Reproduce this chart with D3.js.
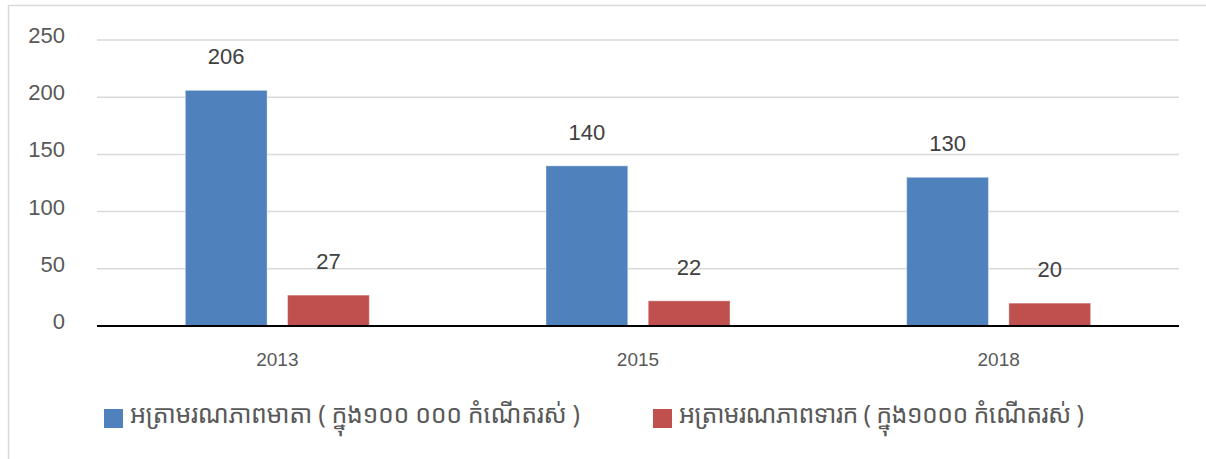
<!DOCTYPE html>
<html>
<head>
<meta charset="utf-8">
<script src="https://cdn.jsdelivr.net/npm/d3@7"></script>
<style>
  body { margin: 0; background: #fff; }
  text { font-family: "Liberation Sans", Arial, sans-serif; }
</style>
</head>
<body>
<div id="wrapper"></div>
<script>
const years = ["2013", "2015", "2018"];
const seriesNames = [
    "អត្រាមរណភាពមាតា ( ក្នុង១០០ ០០០ កំណើតរស់ )",
    "អត្រាមរណភាពទារក ( ក្នុង១០០០ កំណើតរស់ )"
];
const maternal = [206, 140, 130];
const infant = [27, 22, 20];
const yTicks = [0, 50, 100, 150, 200, 250];
const colors = ["#4F81BD", "#C0504D"];

const dimension = {
    width: 1206,
    height: 459,
    margin: { top: 40, left: 97, bottom: 133, right: 27 }
};
dimension.boundedWidth = dimension.width - dimension.margin.left - dimension.margin.right;
dimension.boundedHeight = 326 - dimension.margin.top;

const svg = d3.select("#wrapper").append("svg")
    .attr("width", dimension.width)
    .attr("height", dimension.height);

// chart frame
svg.append("rect")
    .attr("x", 8.5).attr("y", 5.5)
    .attr("width", 1210).attr("height", 470)
    .attr("fill", "none")
    .attr("stroke", "#d9d9d9")
    .attr("stroke-width", 1.5);

const bounded = svg.append("g")
    .attr("transform", `translate(${dimension.margin.left},${dimension.margin.top})`);

const yScaler = d3.scaleLinear()
    .domain([0, 250])
    .range([dimension.boundedHeight, 0]);

const x0 = d3.scaleBand()
    .domain(years)
    .range([0, dimension.boundedWidth]);

const groupWidth = 184;
const x1 = d3.scaleBand()
    .domain([0, 1])
    .range([(x0.bandwidth() - groupWidth) / 2, (x0.bandwidth() + groupWidth) / 2])
    .paddingInner(0.2);

// gridlines
bounded.append("g")
    .selectAll("line")
    .data(yTicks.filter(d => d > 0))
    .join("line")
    .attr("x1", 0).attr("x2", dimension.boundedWidth)
    .attr("y1", d => yScaler(d)).attr("y2", d => yScaler(d))
    .attr("stroke", "#d9d9d9")
    .attr("stroke-width", 1.5);

// y tick labels
bounded.append("g")
    .selectAll("text")
    .data(yTicks)
    .join("text")
    .attr("x", -32)
    .attr("y", d => yScaler(d) + 3)
    .attr("text-anchor", "end")
    .attr("fill", "#595959")
    .attr("font-size", 22)
    .text(d => d);

const rows = years.map((y, i) => ({ year: y, values: [maternal[i], infant[i]] }));

const groups = bounded.selectAll(".grp")
    .data(rows)
    .join("g")
    .attr("class", "grp")
    .attr("transform", d => `translate(${x0(d.year)},0)`);

groups.selectAll("rect")
    .data(d => d.values.map((v, k) => ({ k, v })))
    .join("rect")
    .attr("x", d => x1(d.k))
    .attr("width", x1.bandwidth())
    .attr("y", d => yScaler(d.v))
    .attr("height", d => yScaler(0) - yScaler(d.v))
    .attr("fill", d => colors[d.k])
    .attr("stroke", "#ffffff")
    .attr("stroke-opacity", 0.4)
    .attr("stroke-width", 1);

groups.selectAll(".val")
    .data(d => d.values.map((v, k) => ({ k, v })))
    .join("text")
    .attr("class", "val")
    .attr("x", d => x1(d.k) + x1.bandwidth() / 2)
    .attr("y", d => yScaler(d.v) - 26)
    .attr("text-anchor", "middle")
    .attr("fill", "#404040")
    .attr("font-size", 22)
    .text(d => d.v);

// x axis line
bounded.append("line")
    .attr("x1", 0).attr("x2", dimension.boundedWidth)
    .attr("y1", yScaler(0)).attr("y2", yScaler(0))
    .attr("stroke", "#000")
    .attr("stroke-width", 2);

// year labels
bounded.append("g")
    .selectAll("text")
    .data(years)
    .join("text")
    .attr("x", d => x0(d) + x0.bandwidth() / 2)
    .attr("y", yScaler(0) + 40)
    .attr("text-anchor", "middle")
    .attr("fill", "#595959")
    .attr("font-size", 19)
    .text(d => d);

// legend
const legendX = [104, 653];
const legendLen = [450, 405];
const legend = svg.append("g")
    .selectAll("g")
    .data(seriesNames)
    .join("g")
    .attr("transform", (d, i) => `translate(${legendX[i]},409)`);
legend.append("rect")
    .attr("width", 19).attr("height", 19)
    .attr("fill", (d, i) => colors[i]);
legend.append("text")
    .attr("x", 26)
    .attr("y", 14)
    .attr("fill", "#595959")
    .attr("font-size", 25)
    .attr("textLength", (d, i) => legendLen[i])
    .attr("lengthAdjust", "spacing")
    .style("font-family", "'Noto Sans Khmer', 'Khmer OS', 'DejaVu Sans', sans-serif")
    .text(d => d);
</script>
</body>
</html>
